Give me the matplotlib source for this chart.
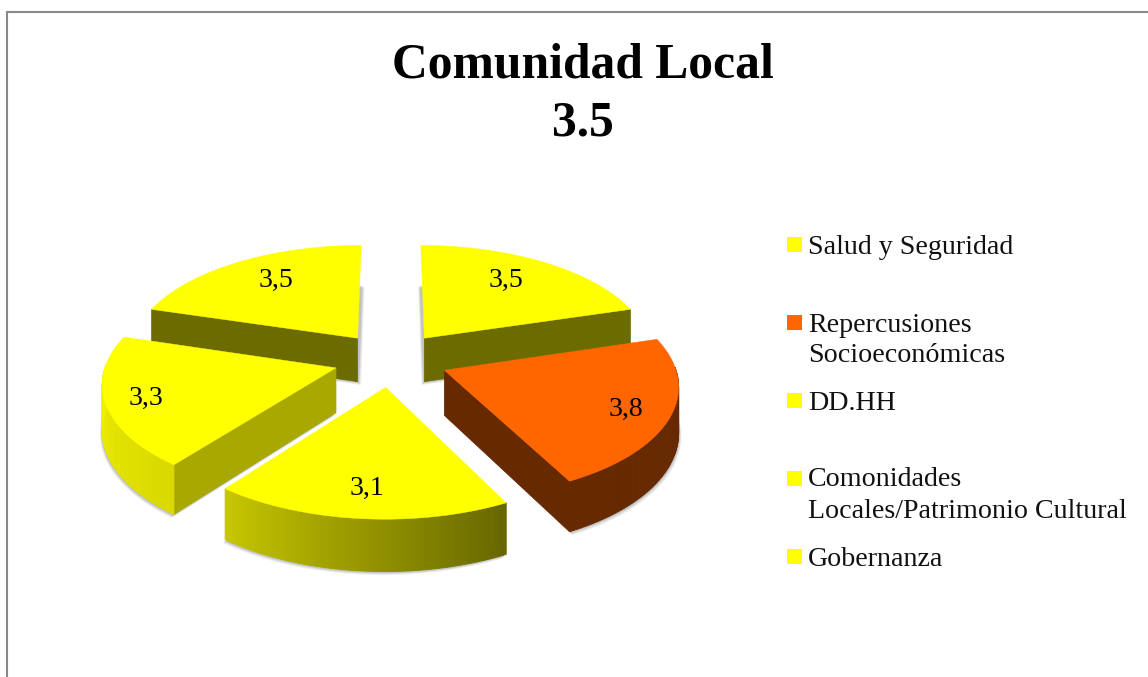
import numpy as np
import matplotlib
matplotlib.use('Agg')
import matplotlib.pyplot as plt
from matplotlib.patches import Polygon, Rectangle

# datos
categories = ['Salud y Seguridad', 'Repercusiones\nSocioeconómicas', 'DD.HH',
              'Comonidades\nLocales/Patrimonio Cultural', 'Gobernanza']
values = [3.5, 3.8, 3.1, 3.3, 3.5]
value_labels = ['3,5', '3,8', '3,1', '3,3', '3,5']
title_lines = ['Comunidad Local', '3.5']

slice_colors = ['#ffff00', '#ff6600', '#ffff00', '#ffff00', '#ffff00']
wall_shades = [(0.42, 0.42), (0.40, 0.40), (0.40, 0.78), (0.85, 0.97), (0.42, 0.42)]
face_shades = [0.42, 0.40, 0.40, 0.66, 0.42]

# geometria de la proyeccion, en pixeles
cx, cy = 391, 359.5
rx, ry = 229, 108.7
persp = 0.12
explode = 0.25
depth = 44.5
label_frac = 0.78
label_nudge = [(-13, 3), (7, 4), (0, 2), (-12, 3), (13, 3)]
shadow_dir = [-0.5, 0.5, -0.4, -0.4, 0.6]
legend_text_y = [247, 325, 403, 480, 559]
legend_box_y = [237, 315, 393, 471, 549]


def project(u, v, drop=0.0):
    s = 1 / (1 + persp * v)
    return cx + rx * u * s, cy - ry * v * s + drop * s


def shade(color, f):
    rgb = np.array(matplotlib.colors.to_rgb(color))
    return tuple(rgb * f)


def outline(ax0, ax1, mid, drop=0.0):
    ex, ey = explode * np.sin(mid), explode * np.cos(mid)
    th = np.linspace(ax0, ax1, 80)
    xs, ys = project(ex + np.sin(th), ey + np.cos(th), drop)
    x0, y0 = project(ex, ey, drop)
    return np.vstack([[x0, y0], np.column_stack([xs, ys])])


plt.rcParams['font.family'] = ['Liberation Serif', 'DejaVu Serif']
fig = plt.figure(figsize=(11.48, 6.77), dpi=100)
ax = fig.add_axes([0, 0, 1, 1])
ax.set_xlim(0, 1148)
ax.set_ylim(677, 0)
ax.axis('off')

# marco del grafico
ax.plot([6.5, 6.5, 1148], [677, 11.5, 11.5], color='#8a8a8a', lw=1.5, solid_joinstyle='miter')

fracs = np.array(values) / sum(values)
ends = np.cumsum(fracs) * 2 * np.pi
starts = ends - fracs * 2 * np.pi
mids = (starts + ends) / 2

# de atras hacia adelante
order = np.argsort(np.cos(mids))[::-1]
for rank, i in enumerate(order):
    t0, t1, m = starts[i], ends[i], mids[i]
    col = slice_colors[i]
    z = 2 * rank + 1

    # sombra bajo la porcion
    low = outline(t0, t1, m, depth)
    for off, a in [(3.5, 0.10), (2.5, 0.16), (1.5, 0.22)]:
        ax.add_patch(Polygon(low + [shadow_dir[i] * off * 1.6, off], closed=True, fc='#707070',
                             ec='none', alpha=a, zorder=z - 1))

    top = outline(t0, t1, m)

    # caras de corte visibles
    for idx, hidden in [(1, np.sin(t0) >= 0), (-1, np.sin(t1) <= 1e-6)]:
        if hidden:
            continue
        c = shade(col, face_shades[i])
        ax.add_patch(Polygon([top[0], top[idx], low[idx], low[0]], closed=True, fc=c, ec=c,
                             lw=0.5, zorder=z))

    # pared exterior con degradado
    arc = np.linspace(t0, t1, 80)
    for k in range(79):
        if np.cos((arc[k] + arc[k + 1]) / 2) > 0.03:
            continue
        f = wall_shades[i][0] + (wall_shades[i][1] - wall_shades[i][0]) * k / 78
        c = shade(col, f)
        quad = [top[k + 1], top[k + 2], low[k + 2], low[k + 1]]
        ax.add_patch(Polygon(quad, closed=True, fc=c, ec=c, lw=0.6, zorder=z))

    ax.add_patch(Polygon(top, closed=True, fc=col, ec=col, lw=0.3, zorder=z))

    # etiqueta del valor
    ex, ey = explode * np.sin(m), explode * np.cos(m)
    lx, ly = project(ex + label_frac * np.sin(m), ey + label_frac * np.cos(m))
    ax.text(lx + label_nudge[i][0], ly + label_nudge[i][1], value_labels[i], ha='center',
            va='center', fontsize=20, color='black', zorder=50)

# titulo
ax.text(583, 66, title_lines[0], ha='center', va='center', fontsize=35.7, fontweight='bold')
ax.text(583, 124, title_lines[1], ha='center', va='center', fontsize=35.7, fontweight='bold')

# leyenda
for name, col, ty, by in zip(categories, slice_colors, legend_text_y, legend_box_y):
    ax.add_patch(Rectangle((787, by), 15, 15, fc=col, ec='none'))
    for n, line in enumerate(name.split('\n')):
        ax.text(808, ty + n * 31, line, ha='left', va='center', fontsize=20.2, color='#111111')

fig.savefig('out.png', dpi=100)
